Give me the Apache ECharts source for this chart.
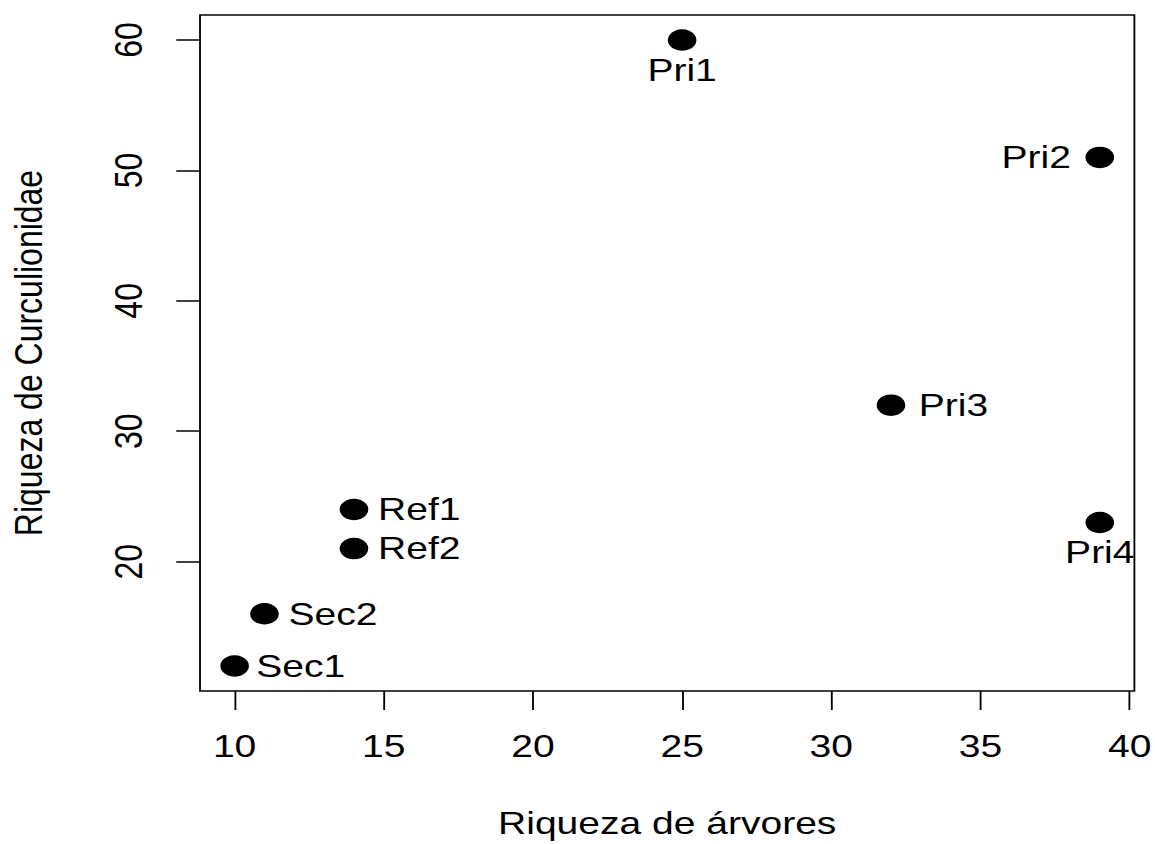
<!DOCTYPE html>
<html>
<head>
<meta charset="utf-8">
<script src="https://cdn.jsdelivr.net/npm/echarts@6/dist/echarts.min.js"></script>
<style>
  html, body { margin: 0; padding: 0; background: #fff; overflow: hidden; }
  #wrap { width: 1155px; height: 844px; overflow: hidden; }
  #c { width: 947px; height: 844px; transform: scaleX(1.21964); transform-origin: 0 0; }
</style>
</head>
<body>
<div id="wrap"><div id="c"></div></div>
<script>
// ---- data ----
const siteNames = ['Pri1', 'Pri2', 'Pri3', 'Pri4', 'Ref1', 'Ref2', 'Sec2', 'Sec1'];
const treeRichness = [25, 39, 32, 39, 14, 14, 11, 10];          // Riqueza de árvores
const weevilRichness = [60, 51, 32, 23, 24, 21, 16, 12];         // Riqueza de Curculionidae
const xTickValues = [10, 15, 20, 25, 30, 35, 40];
const yTickValues = [20, 30, 40, 50, 60];
const xTitle = 'Riqueza de árvores';
const yTitle = 'Riqueza de Curculionidae';

// ---- styling / layout ----
const FONT = '"Liberation Sans", Arial, sans-serif';
const FS = 32;
const labelPlacement = {
  Pri1: { position: 'bottom', distance: 3 },
  Pri2: { position: 'left', distance: 12 },
  Pri3: { position: 'right', distance: 11 },
  Pri4: { position: 'bottom', distance: 3 },
  Ref1: { position: 'right', distance: 8 },
  Ref2: { position: 'right', distance: 8 },
  Sec2: { position: 'right', distance: 8 },
  Sec1: { position: 'right', distance: 6 }
};

// R-style axis range: data range extended by 4% on each side
function rRange(arr) {
  const lo = Math.min.apply(null, arr), hi = Math.max.apply(null, arr);
  const pad = (hi - lo) * 0.04;
  return [lo - pad, hi + pad];
}
const xr = rRange(treeRichness);
const yr = rRange(weevilRichness);

const points = siteNames.map((n, i) => ({
  name: n,
  value: [treeRichness[i], weevilRichness[i]],
  label: labelPlacement[n]
}));

const chart = echarts.init(document.getElementById('c'), null, { renderer: 'svg' });
chart.setOption({
  animation: false,
  backgroundColor: '#fff',
  grid: {
    left: 164, right: 16, top: 15, bottom: 153,
    show: true, borderColor: '#000', borderWidth: 1.5, backgroundColor: 'transparent'
  },
  xAxis: {
    type: 'value', min: xr[0], max: xr[1],
    name: xTitle, nameLocation: 'middle', nameGap: 116,
    nameTextStyle: { fontSize: FS, color: '#000', fontFamily: FONT },
    axisLine: { show: false },
    splitLine: { show: false },
    axisTick: { show: true, customValues: xTickValues, length: 19, lineStyle: { color: '#000', width: 1.5 } },
    axisLabel: { customValues: xTickValues, fontSize: FS, color: '#000', fontFamily: FONT, margin: 39 }
  },
  yAxis: {
    type: 'value', min: yr[0], max: yr[1],
    name: yTitle, nameLocation: 'middle', nameGap: 124,
    nameTextStyle: { fontSize: FS, color: '#000', fontFamily: FONT },
    axisLine: { show: false },
    splitLine: { show: false },
    axisTick: { show: true, customValues: yTickValues, length: 19.5, lineStyle: { color: '#000', width: 1.5 } },
    axisLabel: { customValues: yTickValues, rotate: 90, fontSize: FS, color: '#000', fontFamily: FONT, margin: 42 }
  },
  series: [{
    type: 'scatter',
    symbol: 'circle',
    symbolSize: [23.5, 21.5],
    itemStyle: { color: '#000', opacity: 1 },
    label: { show: true, formatter: '{b}', fontSize: FS, color: '#000', fontFamily: FONT },
    emphasis: { disabled: true },
    data: points
  }]
});
</script>
</body>
</html>
